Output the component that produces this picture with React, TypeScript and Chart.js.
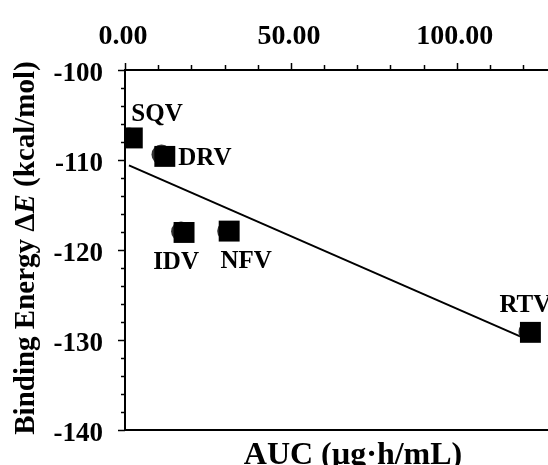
import React, { useEffect, useRef } from "react";
import { Chart, registerables } from "chart.js";

Chart.register(...registerables);

// ---- data ----
const drugs = ["SQV", "DRV", "IDV", "NFV", "RTV"];
const aucValues = [2.2, 12.0, 17.8, 31.4, 122.2];
const bindingEnergy = [-107.55, -109.6, -118.05, -117.9, -129.15];
// secondary (circle) markers partly hidden behind squares
const circleAuc = [1.3, 11.0, 16.9, 30.8, 121.6];
const circleEnergy = [-107.5, -109.4, -117.95, -117.9, -129.1];
// regression line end points
const trendAuc = [1.2, 122.2];
const trendEnergy = [-110.6, -130.1];

const xMajorTicks = [0, 50, 100];
const yMajorTicks = [-100, -110, -120, -130, -140];

// label offsets (px) relative to the marker centre: [dx, dy, align]
const labelOffsets: [number, number, CanvasTextAlign][] = [
  [-1, -25.5, "left"],
  [13.5, 0.5, "left"],
  [-8, 28, "center"],
  [17, 29, "center"],
  [-31, -28.5, "left"],
];

const FONT = "'Liberation Serif', 'Times New Roman', serif";

const axesPlugin = {
  id: "customAxes",
  afterDatasetsDraw(chart: any) {
    const { ctx, chartArea } = chart;
    const xs = chart.scales.x;
    const ys = chart.scales.y;
    ctx.save();
    ctx.strokeStyle = "#000";
    ctx.fillStyle = "#000";
    ctx.lineWidth = 2;
    // axis lines
    ctx.beginPath();
    ctx.moveTo(chartArea.left, chartArea.top);
    ctx.lineTo(chartArea.right, chartArea.top);
    ctx.moveTo(chartArea.left, chartArea.top - 1);
    ctx.lineTo(chartArea.left, chartArea.bottom + 1);
    ctx.moveTo(chartArea.left, chartArea.bottom);
    ctx.lineTo(chartArea.right, chartArea.bottom);
    ctx.stroke();
    // x ticks (top)
    ctx.lineWidth = 1.5;
    for (let v = 0; v <= xs.max; v += 10) {
      const px = Math.round(xs.getPixelForValue(v)) + 0.5;
      const major = xMajorTicks.includes(v);
      ctx.beginPath();
      ctx.moveTo(px, chartArea.top);
      ctx.lineTo(px, chartArea.top - (major ? 7 : 5));
      ctx.stroke();
    }
    // y ticks (left)
    for (let v = -140; v <= -100; v += 2) {
      const py = Math.round(ys.getPixelForValue(v)) + 0.5;
      const major = yMajorTicks.includes(v);
      ctx.beginPath();
      ctx.moveTo(chartArea.left, py);
      ctx.lineTo(chartArea.left - (major ? 7 : 4), py);
      ctx.stroke();
    }
    // tick labels
    ctx.textBaseline = "alphabetic";
    ctx.font = `bold 28px ${FONT}`;
    ctx.textAlign = "center";
    xMajorTicks.forEach((v) => {
      ctx.fillText(v.toFixed(2), xs.getPixelForValue(v) - 2, 44);
    });
    ctx.font = `bold 27px ${FONT}`;
    ctx.textAlign = "right";
    yMajorTicks.forEach((v) => {
      ctx.fillText(String(v), 103, ys.getPixelForValue(v) + 10.5);
    });
    // point labels
    ctx.font = `bold 25px ${FONT}`;
    drugs.forEach((name, i) => {
      const px = xs.getPixelForValue(aucValues[i]);
      const py = ys.getPixelForValue(bindingEnergy[i]);
      const [dx, dy, align] = labelOffsets[i];
      ctx.textAlign = align;
      ctx.fillText(name, px + dx, py + dy + 8.3);
    });
    // x axis title
    ctx.font = `bold 32px ${FONT}`;
    ctx.textAlign = "center";
    ctx.fillText("AUC (\u00b5g\u00b7h/mL)", 353, 464);

    // y title with italic E
    const partA = "Binding Energy \u0394";
    const partB = "E";
    const partC = " (kcal/mol)";
    const fb = `bold 29px ${FONT}`;
    const fi = `italic bold 29px ${FONT}`;
    ctx.font = fb;
    const wA = ctx.measureText(partA).width;
    const wC = ctx.measureText(partC).width;
    ctx.font = fi;
    const wB = ctx.measureText(partB).width;
    const total = wA + wB + wC;
    const cy = (chartArea.top + chartArea.bottom) / 2 - 2;
    ctx.translate(34, cy);
    ctx.rotate(-Math.PI / 2);
    ctx.textAlign = "left";
    let x0 = -total / 2;
    ctx.font = fb;
    ctx.fillText(partA, x0, 0);
    x0 += wA;
    ctx.font = fi;
    ctx.fillText(partB, x0, 0);
    x0 += wB;
    ctx.font = fb;
    ctx.fillText(partC, x0, 0);
    ctx.restore();
  },
};

export default function App() {
  const ref = useRef<HTMLCanvasElement | null>(null);
  useEffect(() => {
    if (!ref.current) return;
    const chart = new Chart(ref.current, {
      type: "scatter",
      data: {
        datasets: [
          {
            label: "AUC",
            data: aucValues.map((x, i) => ({ x, y: bindingEnergy[i] })),
            pointStyle: "rect",
            pointRadius: 14.8,
            backgroundColor: "#000",
            borderColor: "#000",
            borderWidth: 0,
          },
          {
            label: "circles",
            data: circleAuc.map((x, i) => ({ x, y: circleEnergy[i] })),
            pointStyle: "circle",
            pointRadius: 10,
            backgroundColor: "#333",
            borderColor: "#333",
            borderWidth: 0,
          },
          {
            label: "trend",
            data: trendAuc.map((x, i) => ({ x, y: trendEnergy[i] })),
            showLine: true,
            pointRadius: 0,
            borderColor: "#000",
            borderWidth: 2,
            fill: false,
          },
        ],
      },
      options: {
        animation: false,
        responsive: false,
        maintainAspectRatio: false,
        events: [],
        layout: { autoPadding: false, padding: { left: 125, top: 70, right: 0, bottom: 35 } },
        plugins: { legend: { display: false }, tooltip: { enabled: false } },
        scales: {
          x: { type: "linear", min: 0, max: 127.5, display: false },
          y: { type: "linear", min: -140, max: -100, display: false },
        },
      },
      plugins: [axesPlugin],
    });
    return () => chart.destroy();
  }, []);
  return (
    <div style={{ position: "fixed", left: 0, top: 0, width: 548, height: 465, background: "#fff", overflow: "hidden" }}>
      <canvas ref={ref} width={548} height={465} style={{ width: 548, height: 465, display: "block" }} />
    </div>
  );
}
